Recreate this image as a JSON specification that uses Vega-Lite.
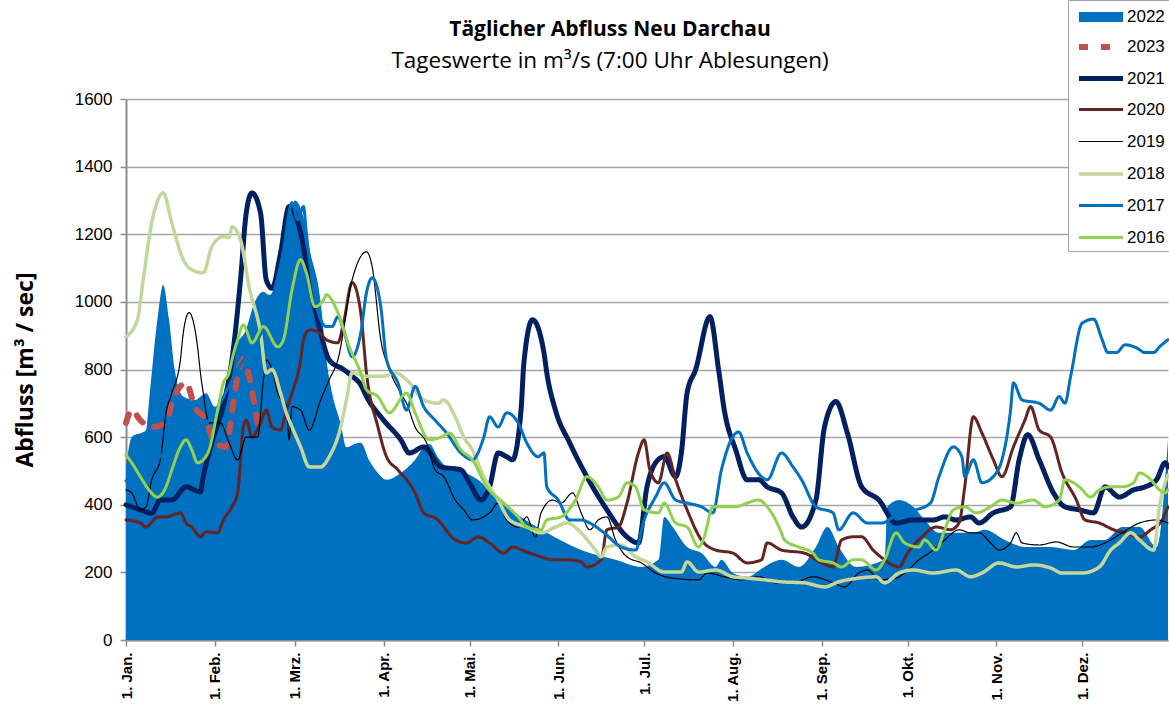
{
"$schema":"https://vega.github.io/schema/vega-lite/v6.json",
"width":1042,"height":541,
"autosize":{"type":"none"},
"padding":{"left":126,"top":99,"right":1,"bottom":75},
"background":"white",
"title":{"text":"Täglicher Abfluss Neu Darchau","subtitle":"Tageswerte in m³/s (7:00 Uhr Ablesungen)","anchor":"middle","dx":-37,"dy":73,"font":"Open Sans","fontSize":21,"fontWeight":"bold","color":"black","subtitleFont":"Open Sans","subtitleFontSize":22.5,"subtitleColor":"black","offset":0,"subtitlePadding":10},
"config":{"view":{"stroke":null}},
"data":{"values":[
{"d":1,"y":"2022","v":512},{"d":3,"y":"2022","v":600},{"d":8,"y":"2022","v":620},{"d":9,"y":"2022","v":700},{"d":12,"y":"2022","v":950},{"d":14,"y":"2022","v":1050},{"d":16,"y":"2022","v":950},{"d":18,"y":"2022","v":800},{"d":21,"y":"2022","v":720},{"d":25,"y":"2022","v":710},{"d":29,"y":"2022","v":730},{"d":32,"y":"2022","v":690},{"d":36,"y":"2022","v":750},{"d":38,"y":"2022","v":850},{"d":43,"y":"2022","v":920},{"d":46,"y":"2022","v":1000},{"d":49,"y":"2022","v":1030},{"d":51,"y":"2022","v":1020},{"d":55,"y":"2022","v":1100},{"d":58,"y":"2022","v":1250},{"d":60,"y":"2022","v":1300},{"d":63,"y":"2022","v":1250},{"d":65,"y":"2022","v":1160},{"d":69,"y":"2022","v":1000},{"d":71,"y":"2022","v":830},{"d":73,"y":"2022","v":730},{"d":76,"y":"2022","v":640},{"d":78,"y":"2022","v":570},{"d":81,"y":"2022","v":580},{"d":83,"y":"2022","v":583},{"d":86,"y":"2022","v":530},{"d":89,"y":"2022","v":494},{"d":92,"y":"2022","v":474},{"d":97,"y":"2022","v":494},{"d":102,"y":"2022","v":533},{"d":105,"y":"2022","v":570},{"d":107,"y":"2022","v":580},{"d":110,"y":"2022","v":540},{"d":113,"y":"2022","v":512},{"d":118,"y":"2022","v":500},{"d":124,"y":"2022","v":474},{"d":131,"y":"2022","v":414},{"d":139,"y":"2022","v":364},{"d":148,"y":"2022","v":317},{"d":160,"y":"2022","v":266},{"d":172,"y":"2022","v":237},{"d":181,"y":"2022","v":216},{"d":187,"y":"2022","v":237},{"d":189,"y":"2022","v":364},{"d":192,"y":"2022","v":334},{"d":197,"y":"2022","v":275},{"d":202,"y":"2022","v":257},{"d":207,"y":"2022","v":216},{"d":209,"y":"2022","v":237},{"d":213,"y":"2022","v":198},{"d":218,"y":"2022","v":187},{"d":224,"y":"2022","v":216},{"d":230,"y":"2022","v":237},{"d":236,"y":"2022","v":216},{"d":242,"y":"2022","v":275},{"d":246,"y":"2022","v":334},{"d":250,"y":"2022","v":275},{"d":256,"y":"2022","v":216},{"d":266,"y":"2022","v":237},{"d":267,"y":"2022","v":394},{"d":271,"y":"2022","v":414},{"d":276,"y":"2022","v":394},{"d":280,"y":"2022","v":355},{"d":285,"y":"2022","v":317},{"d":297,"y":"2022","v":317},{"d":301,"y":"2022","v":326},{"d":308,"y":"2022","v":296},{"d":315,"y":"2022","v":275},{"d":324,"y":"2022","v":275},{"d":332,"y":"2022","v":266},{"d":338,"y":"2022","v":296},{"d":343,"y":"2022","v":296},{"d":349,"y":"2022","v":334},{"d":355,"y":"2022","v":334},{"d":361,"y":"2022","v":275},{"d":365,"y":"2022","v":592},
{"d":1,"y":"2023","v":642},{"d":3,"y":"2023","v":680},{"d":6,"y":"2023","v":650},{"d":10,"y":"2023","v":630},{"d":15,"y":"2023","v":642},{"d":17,"y":"2023","v":700},{"d":22,"y":"2023","v":760},{"d":25,"y":"2023","v":690},{"d":29,"y":"2023","v":650},{"d":32,"y":"2023","v":583},{"d":36,"y":"2023","v":571},{"d":38,"y":"2023","v":672},{"d":40,"y":"2023","v":780},{"d":42,"y":"2023","v":830},{"d":44,"y":"2023","v":780},{"d":46,"y":"2023","v":690},{"d":47,"y":"2023","v":640},
{"d":1,"y":"2021","v":400},{"d":6,"y":"2021","v":385},{"d":10,"y":"2021","v":375},{"d":13,"y":"2021","v":414},{"d":17,"y":"2021","v":414},{"d":22,"y":"2021","v":453},{"d":27,"y":"2021","v":438},{"d":28,"y":"2021","v":483},{"d":31,"y":"2021","v":583},{"d":36,"y":"2021","v":730},{"d":38,"y":"2021","v":828},{"d":41,"y":"2021","v":1065},{"d":43,"y":"2021","v":1263},{"d":45,"y":"2021","v":1322},{"d":48,"y":"2021","v":1263},{"d":50,"y":"2021","v":1065},{"d":52,"y":"2021","v":1040},{"d":55,"y":"2021","v":1145},{"d":58,"y":"2021","v":1282},{"d":62,"y":"2021","v":1204},{"d":65,"y":"2021","v":1065},{"d":69,"y":"2021","v":908},{"d":72,"y":"2021","v":828},{"d":77,"y":"2021","v":800},{"d":80,"y":"2021","v":780},{"d":83,"y":"2021","v":755},{"d":85,"y":"2021","v":720},{"d":91,"y":"2021","v":650},{"d":97,"y":"2021","v":592},{"d":100,"y":"2021","v":553},{"d":105,"y":"2021","v":571},{"d":111,"y":"2021","v":512},{"d":118,"y":"2021","v":503},{"d":121,"y":"2021","v":465},{"d":125,"y":"2021","v":414},{"d":128,"y":"2021","v":453},{"d":131,"y":"2021","v":553},{"d":134,"y":"2021","v":542},{"d":136,"y":"2021","v":533},{"d":139,"y":"2021","v":680},{"d":140,"y":"2021","v":820},{"d":143,"y":"2021","v":947},{"d":147,"y":"2021","v":850},{"d":148,"y":"2021","v":790},{"d":151,"y":"2021","v":680},{"d":156,"y":"2021","v":583},{"d":162,"y":"2021","v":483},{"d":169,"y":"2021","v":385},{"d":176,"y":"2021","v":305},{"d":180,"y":"2021","v":287},{"d":183,"y":"2021","v":453},{"d":186,"y":"2021","v":524},{"d":189,"y":"2021","v":542},{"d":193,"y":"2021","v":483},{"d":195,"y":"2021","v":553},{"d":197,"y":"2021","v":730},{"d":200,"y":"2021","v":800},{"d":205,"y":"2021","v":956},{"d":208,"y":"2021","v":800},{"d":210,"y":"2021","v":680},{"d":214,"y":"2021","v":562},{"d":218,"y":"2021","v":474},{"d":222,"y":"2021","v":474},{"d":225,"y":"2021","v":453},{"d":230,"y":"2021","v":435},{"d":234,"y":"2021","v":364},{"d":237,"y":"2021","v":334},{"d":242,"y":"2021","v":414},{"d":245,"y":"2021","v":630},{"d":249,"y":"2021","v":705},{"d":253,"y":"2021","v":612},{"d":258,"y":"2021","v":453},{"d":264,"y":"2021","v":414},{"d":270,"y":"2021","v":346},{"d":276,"y":"2021","v":355},{"d":283,"y":"2021","v":355},{"d":287,"y":"2021","v":364},{"d":291,"y":"2021","v":355},{"d":296,"y":"2021","v":364},{"d":299,"y":"2021","v":346},{"d":304,"y":"2021","v":376},{"d":310,"y":"2021","v":394},{"d":313,"y":"2021","v":533},{"d":316,"y":"2021","v":607},{"d":320,"y":"2021","v":533},{"d":325,"y":"2021","v":435},{"d":329,"y":"2021","v":394},{"d":334,"y":"2021","v":385},{"d":339,"y":"2021","v":376},{"d":343,"y":"2021","v":453},{"d":348,"y":"2021","v":423},{"d":353,"y":"2021","v":444},{"d":357,"y":"2021","v":453},{"d":361,"y":"2021","v":474},{"d":364,"y":"2021","v":524},{"d":365,"y":"2021","v":512},
{"d":1,"y":"2020","v":355},{"d":6,"y":"2020","v":346},{"d":8,"y":"2020","v":334},{"d":12,"y":"2020","v":364},{"d":15,"y":"2020","v":364},{"d":20,"y":"2020","v":376},{"d":22,"y":"2020","v":346},{"d":24,"y":"2020","v":334},{"d":27,"y":"2020","v":305},{"d":29,"y":"2020","v":320},{"d":33,"y":"2020","v":317},{"d":35,"y":"2020","v":355},{"d":38,"y":"2020","v":394},{"d":40,"y":"2020","v":435},{"d":42,"y":"2020","v":630},{"d":43,"y":"2020","v":650},{"d":45,"y":"2020","v":600},{"d":48,"y":"2020","v":642},{"d":50,"y":"2020","v":680},{"d":52,"y":"2020","v":630},{"d":55,"y":"2020","v":621},{"d":57,"y":"2020","v":680},{"d":59,"y":"2020","v":730},{"d":62,"y":"2020","v":828},{"d":63,"y":"2020","v":888},{"d":65,"y":"2020","v":917},{"d":68,"y":"2020","v":912},{"d":71,"y":"2020","v":888},{"d":75,"y":"2020","v":879},{"d":77,"y":"2020","v":938},{"d":80,"y":"2020","v":1057},{"d":83,"y":"2020","v":968},{"d":85,"y":"2020","v":790},{"d":89,"y":"2020","v":630},{"d":92,"y":"2020","v":542},{"d":96,"y":"2020","v":503},{"d":102,"y":"2020","v":435},{"d":105,"y":"2020","v":376},{"d":110,"y":"2020","v":355},{"d":112,"y":"2020","v":334},{"d":116,"y":"2020","v":296},{"d":120,"y":"2020","v":287},{"d":124,"y":"2020","v":305},{"d":128,"y":"2020","v":287},{"d":133,"y":"2020","v":257},{"d":136,"y":"2020","v":275},{"d":141,"y":"2020","v":260},{"d":146,"y":"2020","v":246},{"d":150,"y":"2020","v":237},{"d":155,"y":"2020","v":237},{"d":160,"y":"2020","v":231},{"d":162,"y":"2020","v":216},{"d":167,"y":"2020","v":237},{"d":169,"y":"2020","v":326},{"d":173,"y":"2020","v":334},{"d":176,"y":"2020","v":405},{"d":180,"y":"2020","v":553},{"d":182,"y":"2020","v":592},{"d":184,"y":"2020","v":503},{"d":187,"y":"2020","v":465},{"d":190,"y":"2020","v":553},{"d":193,"y":"2020","v":474},{"d":197,"y":"2020","v":385},{"d":202,"y":"2020","v":296},{"d":207,"y":"2020","v":266},{"d":213,"y":"2020","v":257},{"d":218,"y":"2020","v":228},{"d":223,"y":"2020","v":237},{"d":225,"y":"2020","v":287},{"d":230,"y":"2020","v":266},{"d":238,"y":"2020","v":257},{"d":244,"y":"2020","v":228},{"d":248,"y":"2020","v":216},{"d":251,"y":"2020","v":296},{"d":255,"y":"2020","v":305},{"d":258,"y":"2020","v":305},{"d":262,"y":"2020","v":266},{"d":266,"y":"2020","v":237},{"d":271,"y":"2020","v":216},{"d":274,"y":"2020","v":257},{"d":279,"y":"2020","v":305},{"d":284,"y":"2020","v":334},{"d":289,"y":"2020","v":326},{"d":292,"y":"2020","v":346},{"d":294,"y":"2020","v":453},{"d":297,"y":"2020","v":660},{"d":300,"y":"2020","v":612},{"d":304,"y":"2020","v":533},{"d":307,"y":"2020","v":483},{"d":311,"y":"2020","v":571},{"d":315,"y":"2020","v":650},{"d":317,"y":"2020","v":690},{"d":320,"y":"2020","v":621},{"d":324,"y":"2020","v":600},{"d":328,"y":"2020","v":494},{"d":333,"y":"2020","v":414},{"d":336,"y":"2020","v":355},{"d":341,"y":"2020","v":346},{"d":346,"y":"2020","v":326},{"d":350,"y":"2020","v":317},{"d":355,"y":"2020","v":305},{"d":359,"y":"2020","v":326},{"d":363,"y":"2020","v":355},{"d":365,"y":"2020","v":394},
{"d":1,"y":"2019","v":444},{"d":3,"y":"2019","v":435},{"d":6,"y":"2019","v":385},{"d":8,"y":"2019","v":394},{"d":10,"y":"2019","v":474},{"d":13,"y":"2019","v":533},{"d":15,"y":"2019","v":672},{"d":17,"y":"2019","v":730},{"d":20,"y":"2019","v":828},{"d":21,"y":"2019","v":908},{"d":23,"y":"2019","v":968},{"d":26,"y":"2019","v":867},{"d":27,"y":"2019","v":790},{"d":28,"y":"2019","v":730},{"d":30,"y":"2019","v":642},{"d":34,"y":"2019","v":642},{"d":37,"y":"2019","v":583},{"d":40,"y":"2019","v":533},{"d":43,"y":"2019","v":600},{"d":47,"y":"2019","v":600},{"d":49,"y":"2019","v":770},{"d":50,"y":"2019","v":828},{"d":52,"y":"2019","v":800},{"d":54,"y":"2019","v":730},{"d":57,"y":"2019","v":690},{"d":58,"y":"2019","v":592},{"d":59,"y":"2019","v":690},{"d":62,"y":"2019","v":680},{"d":65,"y":"2019","v":621},{"d":69,"y":"2019","v":710},{"d":72,"y":"2019","v":770},{"d":75,"y":"2019","v":828},{"d":80,"y":"2019","v":1065},{"d":85,"y":"2019","v":1148},{"d":87,"y":"2019","v":1104},{"d":90,"y":"2019","v":888},{"d":93,"y":"2019","v":800},{"d":97,"y":"2019","v":730},{"d":99,"y":"2019","v":700},{"d":102,"y":"2019","v":630},{"d":106,"y":"2019","v":583},{"d":109,"y":"2019","v":503},{"d":112,"y":"2019","v":483},{"d":116,"y":"2019","v":414},{"d":119,"y":"2019","v":385},{"d":122,"y":"2019","v":355},{"d":128,"y":"2019","v":376},{"d":131,"y":"2019","v":405},{"d":134,"y":"2019","v":355},{"d":138,"y":"2019","v":334},{"d":141,"y":"2019","v":364},{"d":144,"y":"2019","v":305},{"d":146,"y":"2019","v":376},{"d":150,"y":"2019","v":414},{"d":153,"y":"2019","v":405},{"d":157,"y":"2019","v":435},{"d":160,"y":"2019","v":376},{"d":163,"y":"2019","v":326},{"d":166,"y":"2019","v":355},{"d":169,"y":"2019","v":364},{"d":172,"y":"2019","v":296},{"d":176,"y":"2019","v":246},{"d":181,"y":"2019","v":228},{"d":186,"y":"2019","v":198},{"d":192,"y":"2019","v":183},{"d":201,"y":"2019","v":178},{"d":204,"y":"2019","v":198},{"d":210,"y":"2019","v":187},{"d":216,"y":"2019","v":178},{"d":222,"y":"2019","v":187},{"d":228,"y":"2019","v":169},{"d":234,"y":"2019","v":169},{"d":241,"y":"2019","v":187},{"d":248,"y":"2019","v":169},{"d":252,"y":"2019","v":157},{"d":257,"y":"2019","v":198},{"d":260,"y":"2019","v":207},{"d":264,"y":"2019","v":178},{"d":270,"y":"2019","v":183},{"d":273,"y":"2019","v":198},{"d":278,"y":"2019","v":237},{"d":283,"y":"2019","v":266},{"d":287,"y":"2019","v":296},{"d":292,"y":"2019","v":326},{"d":296,"y":"2019","v":317},{"d":299,"y":"2019","v":317},{"d":303,"y":"2019","v":287},{"d":306,"y":"2019","v":266},{"d":310,"y":"2019","v":287},{"d":312,"y":"2019","v":317},{"d":314,"y":"2019","v":287},{"d":320,"y":"2019","v":281},{"d":326,"y":"2019","v":290},{"d":332,"y":"2019","v":275},{"d":338,"y":"2019","v":275},{"d":343,"y":"2019","v":287},{"d":349,"y":"2019","v":317},{"d":355,"y":"2019","v":346},{"d":361,"y":"2019","v":355},{"d":365,"y":"2019","v":346},
{"d":1,"y":"2018","v":897},{"d":5,"y":"2018","v":947},{"d":7,"y":"2018","v":1065},{"d":10,"y":"2018","v":1234},{"d":14,"y":"2018","v":1322},{"d":17,"y":"2018","v":1234},{"d":21,"y":"2018","v":1125},{"d":24,"y":"2018","v":1095},{"d":28,"y":"2018","v":1086},{"d":31,"y":"2018","v":1163},{"d":35,"y":"2018","v":1193},{"d":37,"y":"2018","v":1190},{"d":38,"y":"2018","v":1222},{"d":41,"y":"2018","v":1184},{"d":44,"y":"2018","v":1045},{"d":48,"y":"2018","v":908},{"d":50,"y":"2018","v":790},{"d":52,"y":"2018","v":800},{"d":55,"y":"2018","v":730},{"d":57,"y":"2018","v":672},{"d":59,"y":"2018","v":630},{"d":62,"y":"2018","v":571},{"d":65,"y":"2018","v":512},{"d":69,"y":"2018","v":512},{"d":72,"y":"2018","v":542},{"d":76,"y":"2018","v":630},{"d":78,"y":"2018","v":710},{"d":80,"y":"2018","v":790},{"d":85,"y":"2018","v":780},{"d":91,"y":"2018","v":780},{"d":95,"y":"2018","v":790},{"d":99,"y":"2018","v":770},{"d":105,"y":"2018","v":710},{"d":110,"y":"2018","v":700},{"d":112,"y":"2018","v":710},{"d":116,"y":"2018","v":660},{"d":119,"y":"2018","v":600},{"d":122,"y":"2018","v":562},{"d":126,"y":"2018","v":483},{"d":131,"y":"2018","v":414},{"d":135,"y":"2018","v":355},{"d":141,"y":"2018","v":334},{"d":146,"y":"2018","v":317},{"d":151,"y":"2018","v":334},{"d":155,"y":"2018","v":346},{"d":160,"y":"2018","v":317},{"d":165,"y":"2018","v":266},{"d":167,"y":"2018","v":246},{"d":169,"y":"2018","v":275},{"d":174,"y":"2018","v":281},{"d":179,"y":"2018","v":246},{"d":183,"y":"2018","v":231},{"d":189,"y":"2018","v":201},{"d":195,"y":"2018","v":201},{"d":197,"y":"2018","v":231},{"d":201,"y":"2018","v":201},{"d":207,"y":"2018","v":207},{"d":213,"y":"2018","v":187},{"d":218,"y":"2018","v":183},{"d":224,"y":"2018","v":178},{"d":230,"y":"2018","v":172},{"d":238,"y":"2018","v":169},{"d":245,"y":"2018","v":157},{"d":250,"y":"2018","v":172},{"d":257,"y":"2018","v":183},{"d":263,"y":"2018","v":187},{"d":266,"y":"2018","v":169},{"d":271,"y":"2018","v":198},{"d":276,"y":"2018","v":207},{"d":283,"y":"2018","v":198},{"d":291,"y":"2018","v":207},{"d":296,"y":"2018","v":187},{"d":300,"y":"2018","v":198},{"d":306,"y":"2018","v":228},{"d":312,"y":"2018","v":216},{"d":318,"y":"2018","v":222},{"d":324,"y":"2018","v":213},{"d":328,"y":"2018","v":198},{"d":335,"y":"2018","v":198},{"d":341,"y":"2018","v":216},{"d":345,"y":"2018","v":266},{"d":348,"y":"2018","v":287},{"d":352,"y":"2018","v":317},{"d":355,"y":"2018","v":296},{"d":360,"y":"2018","v":266},{"d":362,"y":"2018","v":394},{"d":364,"y":"2018","v":465},{"d":365,"y":"2018","v":488},
{"d":1,"y":"2017","v":470},{"d":10,"y":"2017","v":520},{"d":20,"y":"2017","v":600},{"d":30,"y":"2017","v":650},{"d":40,"y":"2017","v":800},{"d":50,"y":"2017","v":950},{"d":56,"y":"2017","v":1150},{"d":59,"y":"2017","v":1293},{"d":61,"y":"2017","v":1243},{"d":63,"y":"2017","v":1282},{"d":64,"y":"2017","v":1204},{"d":66,"y":"2017","v":1065},{"d":69,"y":"2017","v":947},{"d":71,"y":"2017","v":927},{"d":73,"y":"2017","v":927},{"d":75,"y":"2017","v":956},{"d":77,"y":"2017","v":918},{"d":80,"y":"2017","v":838},{"d":83,"y":"2017","v":908},{"d":85,"y":"2017","v":1027},{"d":87,"y":"2017","v":1071},{"d":90,"y":"2017","v":986},{"d":92,"y":"2017","v":830},{"d":96,"y":"2017","v":760},{"d":99,"y":"2017","v":680},{"d":102,"y":"2017","v":750},{"d":105,"y":"2017","v":690},{"d":109,"y":"2017","v":650},{"d":113,"y":"2017","v":612},{"d":118,"y":"2017","v":553},{"d":122,"y":"2017","v":533},{"d":126,"y":"2017","v":600},{"d":128,"y":"2017","v":660},{"d":131,"y":"2017","v":630},{"d":134,"y":"2017","v":672},{"d":138,"y":"2017","v":642},{"d":141,"y":"2017","v":583},{"d":145,"y":"2017","v":542},{"d":147,"y":"2017","v":553},{"d":148,"y":"2017","v":453},{"d":152,"y":"2017","v":414},{"d":156,"y":"2017","v":355},{"d":160,"y":"2017","v":355},{"d":163,"y":"2017","v":346},{"d":168,"y":"2017","v":317},{"d":174,"y":"2017","v":275},{"d":179,"y":"2017","v":266},{"d":182,"y":"2017","v":355},{"d":186,"y":"2017","v":423},{"d":189,"y":"2017","v":465},{"d":193,"y":"2017","v":414},{"d":197,"y":"2017","v":405},{"d":202,"y":"2017","v":394},{"d":206,"y":"2017","v":376},{"d":209,"y":"2017","v":503},{"d":215,"y":"2017","v":615},{"d":218,"y":"2017","v":553},{"d":223,"y":"2017","v":483},{"d":225,"y":"2017","v":474},{"d":230,"y":"2017","v":553},{"d":234,"y":"2017","v":512},{"d":237,"y":"2017","v":474},{"d":242,"y":"2017","v":394},{"d":248,"y":"2017","v":376},{"d":250,"y":"2017","v":326},{"d":255,"y":"2017","v":376},{"d":260,"y":"2017","v":346},{"d":265,"y":"2017","v":346},{"d":271,"y":"2017","v":376},{"d":277,"y":"2017","v":385},{"d":282,"y":"2017","v":405},{"d":285,"y":"2017","v":483},{"d":290,"y":"2017","v":571},{"d":293,"y":"2017","v":542},{"d":294,"y":"2017","v":483},{"d":297,"y":"2017","v":533},{"d":300,"y":"2017","v":465},{"d":305,"y":"2017","v":494},{"d":307,"y":"2017","v":533},{"d":310,"y":"2017","v":680},{"d":311,"y":"2017","v":760},{"d":314,"y":"2017","v":710},{"d":320,"y":"2017","v":700},{"d":324,"y":"2017","v":680},{"d":327,"y":"2017","v":720},{"d":329,"y":"2017","v":700},{"d":331,"y":"2017","v":780},{"d":335,"y":"2017","v":937},{"d":339,"y":"2017","v":949},{"d":342,"y":"2017","v":888},{"d":344,"y":"2017","v":850},{"d":347,"y":"2017","v":850},{"d":350,"y":"2017","v":873},{"d":354,"y":"2017","v":864},{"d":357,"y":"2017","v":850},{"d":360,"y":"2017","v":850},{"d":362,"y":"2017","v":867},{"d":365,"y":"2017","v":888},
{"d":1,"y":"2016","v":548},{"d":3,"y":"2016","v":524},{"d":6,"y":"2016","v":483},{"d":9,"y":"2016","v":444},{"d":12,"y":"2016","v":423},{"d":15,"y":"2016","v":453},{"d":17,"y":"2016","v":503},{"d":20,"y":"2016","v":571},{"d":22,"y":"2016","v":592},{"d":24,"y":"2016","v":562},{"d":26,"y":"2016","v":524},{"d":28,"y":"2016","v":533},{"d":30,"y":"2016","v":562},{"d":33,"y":"2016","v":680},{"d":35,"y":"2016","v":760},{"d":37,"y":"2016","v":790},{"d":38,"y":"2016","v":828},{"d":40,"y":"2016","v":888},{"d":42,"y":"2016","v":932},{"d":45,"y":"2016","v":879},{"d":49,"y":"2016","v":927},{"d":54,"y":"2016","v":867},{"d":56,"y":"2016","v":888},{"d":59,"y":"2016","v":1036},{"d":62,"y":"2016","v":1125},{"d":64,"y":"2016","v":1086},{"d":67,"y":"2016","v":986},{"d":70,"y":"2016","v":1006},{"d":71,"y":"2016","v":1021},{"d":75,"y":"2016","v":968},{"d":79,"y":"2016","v":867},{"d":83,"y":"2016","v":790},{"d":85,"y":"2016","v":740},{"d":89,"y":"2016","v":720},{"d":93,"y":"2016","v":672},{"d":99,"y":"2016","v":730},{"d":102,"y":"2016","v":672},{"d":107,"y":"2016","v":592},{"d":111,"y":"2016","v":600},{"d":114,"y":"2016","v":612},{"d":118,"y":"2016","v":562},{"d":122,"y":"2016","v":533},{"d":127,"y":"2016","v":453},{"d":133,"y":"2016","v":405},{"d":138,"y":"2016","v":364},{"d":141,"y":"2016","v":334},{"d":146,"y":"2016","v":326},{"d":148,"y":"2016","v":355},{"d":153,"y":"2016","v":364},{"d":158,"y":"2016","v":414},{"d":162,"y":"2016","v":483},{"d":166,"y":"2016","v":453},{"d":169,"y":"2016","v":414},{"d":173,"y":"2016","v":423},{"d":176,"y":"2016","v":465},{"d":179,"y":"2016","v":453},{"d":182,"y":"2016","v":385},{"d":187,"y":"2016","v":376},{"d":189,"y":"2016","v":405},{"d":193,"y":"2016","v":346},{"d":197,"y":"2016","v":334},{"d":201,"y":"2016","v":275},{"d":203,"y":"2016","v":305},{"d":206,"y":"2016","v":394},{"d":209,"y":"2016","v":394},{"d":214,"y":"2016","v":394},{"d":218,"y":"2016","v":405},{"d":222,"y":"2016","v":414},{"d":225,"y":"2016","v":394},{"d":230,"y":"2016","v":317},{"d":231,"y":"2016","v":296},{"d":236,"y":"2016","v":275},{"d":241,"y":"2016","v":257},{"d":243,"y":"2016","v":237},{"d":248,"y":"2016","v":228},{"d":251,"y":"2016","v":216},{"d":255,"y":"2016","v":237},{"d":258,"y":"2016","v":237},{"d":263,"y":"2016","v":207},{"d":266,"y":"2016","v":237},{"d":270,"y":"2016","v":317},{"d":273,"y":"2016","v":287},{"d":278,"y":"2016","v":275},{"d":280,"y":"2016","v":296},{"d":284,"y":"2016","v":266},{"d":287,"y":"2016","v":326},{"d":290,"y":"2016","v":385},{"d":294,"y":"2016","v":394},{"d":298,"y":"2016","v":376},{"d":303,"y":"2016","v":394},{"d":307,"y":"2016","v":414},{"d":312,"y":"2016","v":405},{"d":318,"y":"2016","v":414},{"d":322,"y":"2016","v":394},{"d":327,"y":"2016","v":414},{"d":329,"y":"2016","v":474},{"d":332,"y":"2016","v":465},{"d":334,"y":"2016","v":453},{"d":338,"y":"2016","v":423},{"d":341,"y":"2016","v":444},{"d":345,"y":"2016","v":453},{"d":349,"y":"2016","v":453},{"d":353,"y":"2016","v":465},{"d":355,"y":"2016","v":494},{"d":359,"y":"2016","v":474},{"d":362,"y":"2016","v":444},{"d":364,"y":"2016","v":435},{"d":365,"y":"2016","v":444}
]},
"encoding":{
 "x":{"field":"d","type":"quantitative","scale":{"domain":[1,365],"nice":false,"zero":false},
  "axis":{"values":[1,32,60,91,121,152,182,213,244,274,305,335],"labelExpr":"['1. Jan.','1. Feb.','1. Mrz.','1. Apr.','1. Mai.','1. Jun.','1. Jul.','1. Aug.','1. Sep.','1. Okt.','1. Nov.','1. Dez.'][indexof([1,32,60,91,121,152,182,213,244,274,305,335], datum.value)]","labelAngle":-90,"labelFont":"Liberation Sans","labelFontWeight":"bold","labelFontSize":15,"labelColor":"black","labelPadding":6,"labelOverlap":false,"labelBound":false,"grid":false,"tickSize":6,"tickColor":"#8C8C8C","tickWidth":1.5,"domainColor":"#8C8C8C","domainWidth":2,"title":null}},
 "y":{"field":"v","type":"quantitative","scale":{"domain":[0,1600],"nice":false},
  "axis":{"values":[0,200,400,600,800,1000,1200,1400,1600],"format":"d","grid":true,"gridColor":"#A6A6A6","gridWidth":1.5,"domainColor":"#8C8C8C","domainWidth":2,"tickColor":"#8C8C8C","tickSize":6,"tickWidth":1.5,"labelFont":"Liberation Sans","labelFontSize":17,"labelColor":"black","labelPadding":8,"title":"Abfluss [m³ / sec]","titleFont":"Open Sans","titleFontSize":23,"titleFontWeight":"bold","titleColor":"black","titleX":-89}}
},
"layer":[
 {"transform":[{"filter":"datum.y == '2022'"}],"mark":{"type":"area","interpolate":"monotone","color":"#0070C0","opacity":1}},
 {"transform":[{"filter":"datum.y != '2022'"}],"mark":{"type":"line","interpolate":"monotone","strokeCap":"round","strokeJoin":"round"},
  "encoding":{
   "color":{"field":"y","type":"nominal","scale":{"domain":["2022","2023","2021","2020","2019","2018","2017","2016"],"range":["#0070C0","#C0504D","#002060","#632523","#000000","#C3D69B","#0070C0","#92D050"]},
     "legend":{"orient":"none","legendX":942,"legendY":-99,"title":null,"symbolType":"M-3.15,0L3.15,0","symbolSize":196,"symbolOffset":16,"gridAlign":"all","labelFont":"Liberation Sans","labelFontSize":17,"labelColor":"black","fillColor":"white","strokeColor":"#A6A6A6","padding":5,"rowPadding":-7.5,"labelOffset":14,"symbolOpacity":1}},
   "strokeDash":{"field":"y","type":"nominal","scale":{"type":"ordinal","domain":["2022","2023","2021","2020","2019","2018","2017","2016"],"range":[[1,0],[9,13],[1,0],[1,0],[1,0],[1,0],[1,0],[1,0]]}},
   "strokeWidth":{"field":"y","type":"nominal","scale":{"type":"ordinal","domain":["2022","2023","2021","2020","2019","2018","2017","2016"],"range":[10,6,5,3,1.2,3.5,3,3]}}
  }}
]
}
